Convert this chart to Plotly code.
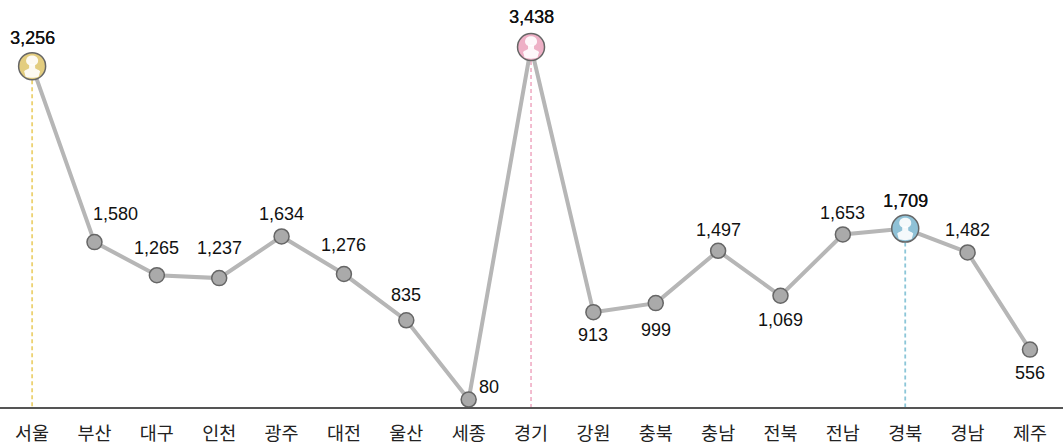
import plotly.graph_objects as go

categories = ["서울", "부산", "대구", "인천", "광주", "대전", "울산", "세종", "경기",
              "강원", "충북", "충남", "전북", "전남", "경북", "경남", "제주"]
values = [3256, 1580, 1265, 1237, 1634, 1276, 835, 80, 3438,
          913, 999, 1497, 1069, 1653, 1709, 1482, 556]
highlight = {"서울": "#e3cd7f", "경기": "#eeb0c6", "경북": "#8fc1d6"}
drop_colors = {"서울": "#ecd272", "경기": "#f2b6cb", "경북": "#8cc6d8"}

# label offsets in pixels from each point (dx, dy up)
label_offsets = [(0, 28), (21, 28), (0, 27), (0, 30), (0, 22), (0, 29), (0, 25), (20, 13), (0, 30),
                 (0, -23), (0, -27), (0, 21), (0, -24), (0, 21), (0, 28), (0, 22), (0, -23)]

NUM_FONT = "Liberation Sans, Arial, sans-serif"
KR_FONT = "Noto Sans CJK KR, sans-serif"

fig = go.Figure()

for c in highlight:
    v = values[categories.index(c)]
    fig.add_trace(go.Scatter(x=[c, c], y=[v, 0], mode="lines", hoverinfo="skip",
                             line=dict(color=drop_colors[c], width=1.8, dash="4px,3px")))

fig.add_trace(go.Scatter(x=categories, y=values, mode="lines+markers", cliponaxis=False,
                         line=dict(color="#b6b6b6", width=4),
                         marker=dict(size=15, color="#aaaaaa", line=dict(color="#666666", width=1.5))))

fig.add_trace(go.Scatter(x=list(highlight), y=[values[categories.index(c)] for c in highlight],
                         mode="markers", cliponaxis=False,
                         marker=dict(size=27, color=list(highlight.values()), line=dict(color="#666666", width=1.5))))

shapes = []
person_head = "M -6 5.5 C -6 12.5 6 12.5 6 5.5 C 6 -1 -6 -1 -6 5.5 Z"
person_body = "M -6.5 -10.5 L -8 -5 C -6 -3 -4 -3 -3 -2 L -3 2 L 3 2 L 3 -2 C 4 -3 6 -3 8 -5 L 6.5 -10.5 C 3 -12 -3 -12 -6.5 -10.5 Z"
for c in highlight:
    v = values[categories.index(c)]
    for p in (person_head, person_body):
        shapes.append(dict(type="path", path=p, xref="x", yref="y", xsizemode="pixel", ysizemode="pixel",
                           xanchor=c, yanchor=v, fillcolor="rgba(255,255,255,0.9)", line=dict(width=0), layer="above"))

annotations = []
for c, v, (dx, dy) in zip(categories, values, label_offsets):
    font = dict(family=NUM_FONT, size=18, color="#111111")
    if c in highlight:
        font["shadow"] = "0.3px 0 0 #111111"
    annotations.append(dict(x=c, y=v, text=f"{v:,}", showarrow=False, xshift=dx, yshift=dy,
                            xanchor="center", yanchor="middle", font=font))

fig.update_layout(
    width=1063, height=445, showlegend=False,
    margin=dict(l=0, r=0, t=0, b=38),
    paper_bgcolor="white", plot_bgcolor="white",
    shapes=shapes, annotations=annotations,
    xaxis=dict(type="category", categoryorder="array", categoryarray=categories,
               range=[-0.515, 16.53], showgrid=False, zeroline=False, showline=True,
               linecolor="#555555", linewidth=2, ticks="", ticklabelstandoff=9,
               tickfont=dict(family=KR_FONT, size=18.5, color="#222222")),
    yaxis=dict(range=[9.5, 3886], visible=False),
)

fig.write_html("out.html", post_script="document.body.style.margin='0';",
               config={"displayModeBar": False})
